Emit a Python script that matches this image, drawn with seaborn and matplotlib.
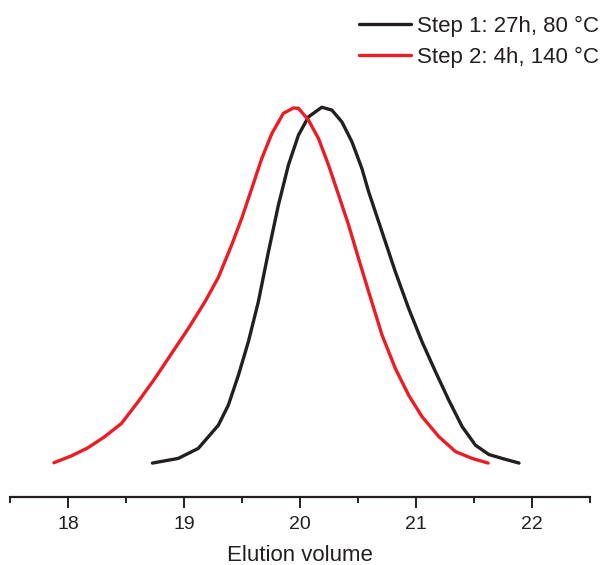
import numpy as np
import pandas as pd
import seaborn as sns
import matplotlib.pyplot as plt

# curva paso 1 (negra)
x_step1 = [18.728, 18.95, 19.123, 19.296, 19.382, 19.469, 19.555, 19.641, 19.728, 19.814,
           19.9, 19.987, 20.073, 20.188, 20.275, 20.361, 20.448, 20.534, 20.592, 20.707,
           20.822, 20.937, 21.052, 21.168, 21.283, 21.398, 21.513, 21.628, 21.743, 21.888]
y_step1 = [0.0, 0.013, 0.041, 0.106, 0.162, 0.246, 0.34, 0.452, 0.592, 0.723,
           0.835, 0.919, 0.97, 0.997, 0.989, 0.956, 0.9, 0.825, 0.76, 0.648,
           0.536, 0.433, 0.34, 0.256, 0.176, 0.102, 0.05, 0.024, 0.013, 0.0]

# curva paso 2 (roja)
x_step2 = [17.879, 18.029, 18.173, 18.317, 18.461, 18.605, 18.749, 18.893, 19.037, 19.181,
           19.296, 19.411, 19.497, 19.584, 19.67, 19.757, 19.857, 19.944, 19.987, 20.073,
           20.16, 20.246, 20.333, 20.419, 20.505, 20.592, 20.707, 20.822, 20.937, 21.052,
           21.197, 21.341, 21.484, 21.622]
y_step2 = [0.001, 0.020, 0.043, 0.074, 0.111, 0.172, 0.237, 0.307, 0.377, 0.452,
           0.52, 0.611, 0.685, 0.769, 0.853, 0.923, 0.98, 0.995, 0.994, 0.961,
           0.909, 0.835, 0.751, 0.667, 0.573, 0.48, 0.359, 0.265, 0.19, 0.13,
           0.074, 0.032, 0.013, 0.0]

labels = ['Step 1: 27h, 80 \u00b0C', 'Step 2: 4h, 140 \u00b0C']
xticks = [18, 19, 20, 21, 22]

sns.set_style('ticks')
plt.rcParams['font.family'] = ['Liberation Sans', 'DejaVu Sans']

fig = plt.figure(figsize=(6.01, 5.65), dpi=100)
ax = fig.add_axes([0.0166, 0.1204, 0.9651, 0.8616])

sns.lineplot(x=x_step1, y=y_step1, ax=ax, color='#231f20', lw=2.4, label=labels[0], sort=False)
sns.lineplot(x=x_step2, y=y_step2, ax=ax, color='#ed1c24', lw=2.4, label=labels[1], sort=False)

ax.set_xlim(17.5, 22.5)
ax.set_ylim(-0.095, 1.269)
ax.set_xticks(xticks)
ax.set_xticks(np.arange(17.5, 22.6, 0.5), minor=True)
ax.tick_params(axis='x', which='major', length=8, width=1.4, labelsize=14, colors='#231f20', pad=6)
ax.tick_params(axis='x', which='minor', length=4.5, width=1.4, colors='#231f20')
ax.set_yticks([])
ax.set_xlabel('Elution volume', fontsize=16, color='#231f20', labelpad=8)
ax.set_ylabel('')

for s in ['top', 'right', 'left']:
    ax.spines[s].set_visible(False)
ax.spines['bottom'].set_linewidth(1.6)
ax.spines['bottom'].set_color('#231f20')

leg = ax.legend(loc='upper right', bbox_to_anchor=(1.023, 1.0), bbox_transform=fig.transFigure,
                frameon=False, fontsize=16, handlelength=2.3, handletextpad=0.3,
                labelspacing=0.47, borderpad=0.7, borderaxespad=0)
for t in leg.get_texts():
    t.set_color('#231f20')

plt.savefig('out.png', dpi=100)
